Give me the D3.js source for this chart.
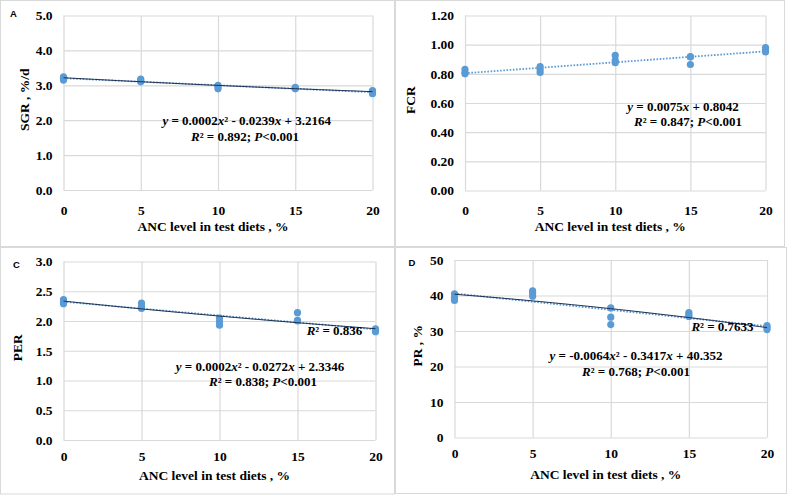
<!DOCTYPE html>
<html><head><meta charset="utf-8">
<script src="https://cdn.jsdelivr.net/npm/d3@7"></script>
<style>
body{margin:0;background:#fff;}
svg{display:block;}
</style></head>
<body>
<svg id="chart" width="787" height="497"></svg>
<script>
// ---------- data ----------
const levels = [0, 5, 10, 15, 20];
// three replicates per level
const sgr = [[3.24, 3.20, 3.15], [3.18, 3.14, 3.10], [3.00, 2.95, 2.90], [2.94, 2.92, 2.90], [2.85, 2.80, 2.76]];
const fcr = [[0.83, 0.81, 0.80], [0.85, 0.83, 0.81], [0.926, 0.892, 0.876], [0.919, 0.915, 0.864], [0.98, 0.965, 0.95]];
const per = [[2.36, 2.32, 2.29], [2.30, 2.25, 2.21], [2.05, 1.99, 1.93], [2.14, 2.00, 2.01], [1.87, 1.84, 1.82]];
const pr  = [[40.5, 39.5, 38.6], [41.3, 40.6, 39.8], [36.5, 33.9, 31.8], [35.2, 34.6, 34.1], [31.5, 31.0, 30.4]];

const xTickLabels = ["0", "5", "10", "15", "20"];
const sgrTicks = [0, 1, 2, 3, 4, 5];
const fcrTicks = [0, 0.2, 0.4, 0.6, 0.8, 1.0, 1.2];
const perTicks = [0, 0.5, 1.0, 1.5, 2.0, 2.5, 3.0];
const prTicks  = [0, 10, 20, 30, 40, 50];

// trendline coefficients (from the equations printed on the chart)
const sgrPoly = [3.2164, -0.0239, 0.0002];
const fcrLin  = [0.8042, 0.0075];
const perPoly = [2.3346, -0.0272, 0.0002];
const prPoly  = [40.352, -0.3417, -0.0064];

const xTitle = "ANC level in test diets , %";

// ---------- layout ----------
const svg = d3.select("#chart");
const serif = "'Liberation Serif','Times New Roman',serif";
const blue = "#5b9bd5";
const dark = "#1f3050";
const grid = "#d9d9d9";

// panel frames
[[0.5, 0.5, 394, 246], [395.5, 0.5, 389, 246], [0.5, 247.5, 394, 246.5], [395.5, 247.5, 391, 246]].forEach(r => {
  svg.append("rect").attr("x", r[0]).attr("y", r[1]).attr("width", r[2]).attr("height", r[3])
    .attr("fill", "none").attr("stroke", grid).attr("stroke-width", 1);
});

const panels = [
  { label: "A", lx: 10, ly: 16.7, data: sgr, ticks: sgrTicks, fmt: d3.format(".1f"), ymax: 5,
    l: 63.5, r: 372.5, t: 15.5, b: 190, yTitle: "SGR , %/d", ytx: 24, xpad: 15, xTitleY: 231,
    solid: sgrPoly, dotted: "linfit",
    eq: [{ x: 246.7, y: 124.5, parts: [["y", 1], [" = 0.0002"], ["x", 1], ["² - 0.0239"], ["x", 1], [" + 3.2164"]] },
         { x: 245, y: 141, parts: [["R", 1], ["² = 0.892; "], ["P", 1], ["<0.001"]] }] },
  { label: null, data: fcr, ticks: fcrTicks, fmt: d3.format(".2f"), ymax: 1.2,
    l: 465, r: 765.5, t: 15.5, b: 190.5, yTitle: "FCR", ytx: 410, xpad: 15, xTitleY: 231,
    solid: null, dotted: fcrLin,
    eq: [{ x: 683, y: 110.5, parts: [["y", 1], [" = 0.0075"], ["x", 1], [" + 0.8042"]] },
         { x: 688, y: 126, parts: [["R", 1], ["² = 0.847; "], ["P", 1], ["<0.001"]] }] },
  { label: "C", lx: 13, ly: 268, data: per, ticks: perTicks, fmt: d3.format(".1f"), ymax: 3,
    l: 63.5, r: 375.5, t: 261.5, b: 440, yTitle: "PER", ytx: 17, xpad: 11, xTitleY: 479.5,
    solid: perPoly, dotted: "linfit",
    eq: [{ x: 260, y: 371, parts: [["y", 1], [" = 0.0002"], ["x", 1], ["² - 0.0272"], ["x", 1], [" + 2.3346"]] },
         { x: 263, y: 386, parts: [["R", 1], ["² = 0.838; "], ["P", 1], ["<0.001"]] },
         { x: 334.5, y: 334.5, parts: [["R", 1], ["² = 0.836"]] }] },
  { label: "D", lx: 408.5, ly: 265.7, data: pr, ticks: prTicks, fmt: d3.format("d"), ymax: 50,
    l: 454.5, r: 767, t: 260, b: 437.5, yTitle: "PR , %", ytx: 417, xpad: 11, xTitleY: 479,
    solid: prPoly, dotted: "linfit",
    eq: [{ x: 636, y: 359.5, parts: [["y", 1], [" = -0.0064"], ["x", 1], ["² - 0.3417"], ["x", 1], [" + 40.352"]] },
         { x: 636, y: 375.5, parts: [["R", 1], ["² = 0.768; "], ["P", 1], ["<0.001"]] },
         { x: 722.5, y: 331, parts: [["R", 1], ["² = 0.7633"]] }] }
];

panels.forEach(p => {
  const x = d3.scaleLinear().domain([0, 20]).range([p.l, p.r]);
  const y = d3.scaleLinear().domain([0, p.ymax]).range([p.b, p.t]);
  const g = svg.append("g");

  // y axis + horizontal gridlines
  const ya = g.append("g").attr("transform", `translate(${p.l},0)`)
    .call(d3.axisLeft(y).tickValues(p.ticks).tickFormat(p.fmt).tickSize(-(p.r - p.l)).tickPadding(11));
  // x axis + vertical gridlines
  const xa = g.append("g").attr("transform", `translate(0,${p.b})`)
    .call(d3.axisBottom(x).tickValues(levels).tickFormat((d, i) => xTickLabels[i]).tickSize(-(p.b - p.t)).tickPadding(p.xpad));
  [ya, xa].forEach(a => {
    a.select(".domain").remove();
    a.selectAll("line").attr("stroke", grid).attr("stroke-width", 1.2);
    a.selectAll("text").attr("font-family", serif).attr("font-weight", "bold")
      .attr("font-size", "13.5px").attr("fill", "#000");
  });

  // points
  const pts = [];
  p.data.forEach((reps, i) => reps.forEach(v => pts.push([levels[i], v])));
  g.append("g").selectAll("circle").data(pts).join("circle")
    .attr("cx", d => x(d[0])).attr("cy", d => y(d[1])).attr("r", 3.6).attr("fill", blue);

  const xs = d3.range(0, 20.01, 0.5);
  const line = d3.line().x(d => x(d[0])).y(d => y(d[1]));

  // dotted trendline
  let dcoef = p.dotted;
  if (dcoef === "linfit") {
    const mx = d3.mean(pts, d => d[0]), my = d3.mean(pts, d => d[1]);
    const sxy = d3.sum(pts, d => (d[0] - mx) * (d[1] - my));
    const sxx = d3.sum(pts, d => (d[0] - mx) ** 2);
    const slope = sxy / sxx;
    dcoef = [my - slope * mx, slope];
  }
  g.append("path").datum(xs.map(v => [v, dcoef[0] + dcoef[1] * v]))
    .attr("d", line).attr("fill", "none").attr("stroke", blue)
    .attr("stroke-width", 1.8).attr("stroke-dasharray", "1.6,1.6");

  // solid polynomial trendline
  if (p.solid) {
    const c = p.solid;
    g.append("path").datum(xs.map(v => [v, c[0] + c[1] * v + c[2] * v * v]))
      .attr("d", line).attr("fill", "none").attr("stroke", dark).attr("stroke-width", 1);
  }

  // axis titles
  g.append("text").attr("x", (p.l + p.r) / 2 - 5).attr("y", p.xTitleY).attr("text-anchor", "middle")
    .attr("font-family", serif).attr("font-weight", "bold").attr("font-size", "13.5px").text(xTitle);
  const ym = (p.t + p.b) / 2 - 3;
  g.append("text").attr("transform", `translate(${p.ytx + 4.5},${ym}) rotate(-90)`).attr("text-anchor", "middle")
    .attr("font-family", serif).attr("font-weight", "bold").attr("font-size", "13.5px").text(p.yTitle);

  // equations
  p.eq.forEach(e => {
    const t = g.append("text").attr("x", e.x).attr("y", e.y).attr("text-anchor", "middle")
      .attr("font-family", serif).attr("font-weight", "bold").attr("font-size", "13px").attr("fill", "#000");
    e.parts.forEach(pt => {
      const s = t.append("tspan").text(pt[0]);
      if (pt[1]) s.attr("font-style", "italic");
    });
  });

  // panel label
  if (p.label) {
    g.append("text").attr("x", p.lx).attr("y", p.ly).attr("font-family", "'Liberation Sans',Arial,sans-serif")
      .attr("font-weight", "bold").attr("font-size", "9.5px").text(p.label);
  }
});
</script>
</body></html>
